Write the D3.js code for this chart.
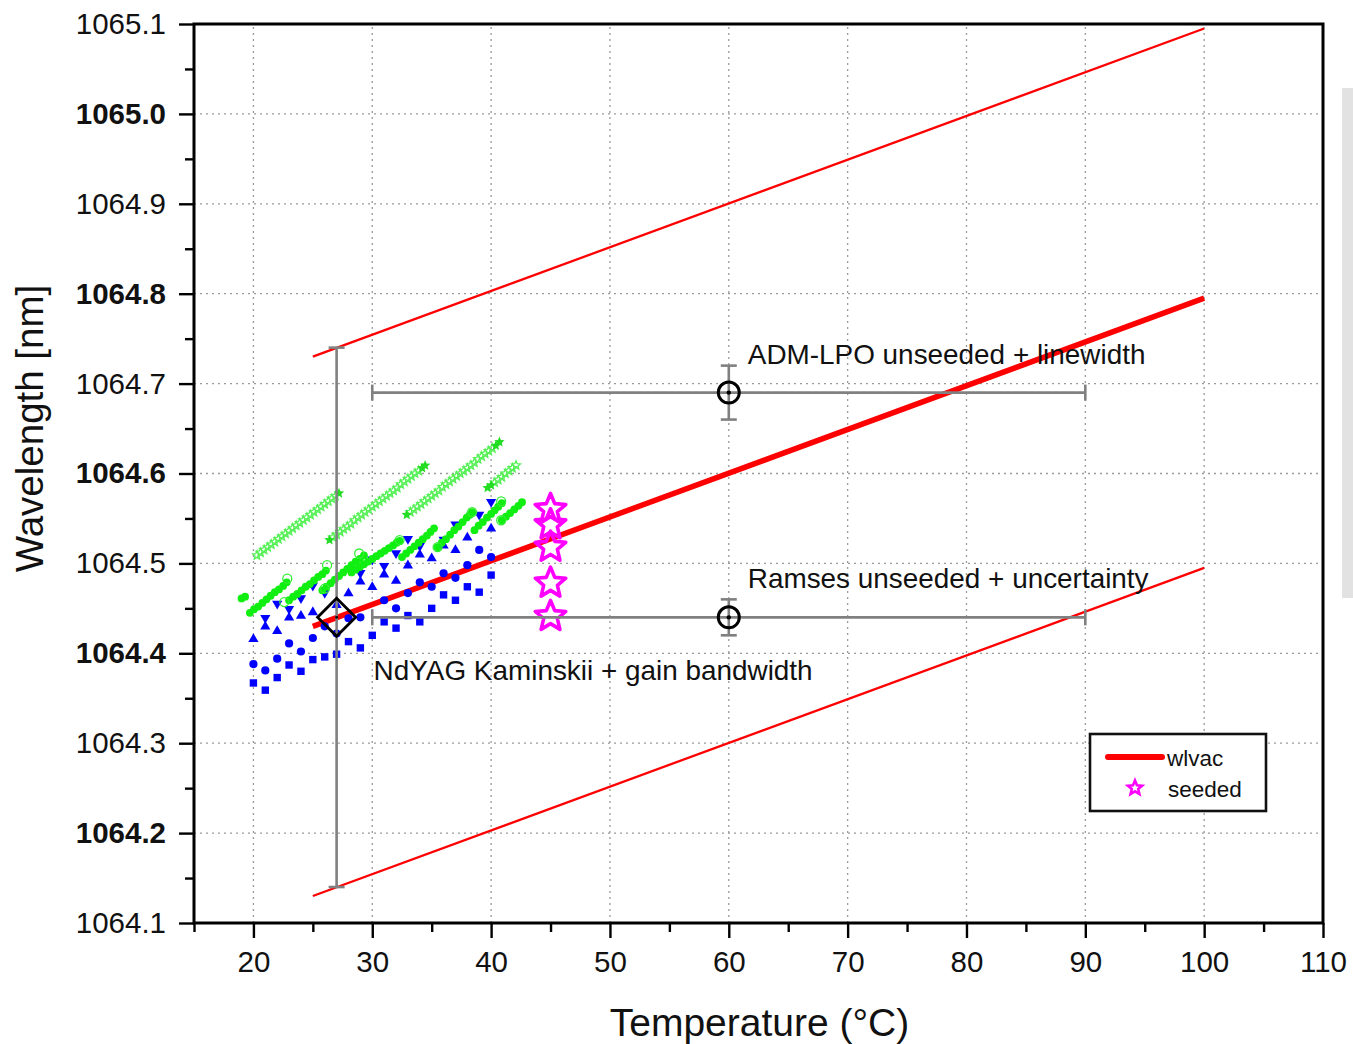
<!DOCTYPE html>
<html>
<head>
<meta charset="utf-8">
<script src="https://cdn.jsdelivr.net/npm/d3@7"></script>
<style>
  html, body { margin: 0; padding: 0; background: #fff; }
  svg { display: block; font-family: "Liberation Sans", Arial, sans-serif; }
</style>
</head>
<body>
<svg id="chart" width="1353" height="1044"></svg>
<script>
// ---------- data ----------
const xTicks = [20, 30, 40, 50, 60, 70, 80, 90, 100, 110];
const xMinorTicks = [15, 25, 35, 45, 55, 65, 75, 85, 95, 105];
const yTicks = [1064.1, 1064.2, 1064.3, 1064.4, 1064.5, 1064.6, 1064.7, 1064.8, 1064.9, 1065.0, 1065.1];
const yMinorTicks = [1064.15, 1064.25, 1064.35, 1064.45, 1064.55, 1064.65, 1064.75, 1064.85, 1064.95, 1065.05];
const yBoldLabels = [1064.2, 1064.4, 1064.6, 1064.8, 1065.0];

// vacuum wavelength vs. temperature and its +/- bounds
const lineTemp = [25, 100];
const wlvac = [1064.43, 1064.795];
const wlUpper = [1064.73, 1065.095];
const wlLower = [1064.13, 1064.495];

// reference points with error bars
const admLpo = { t: 60, wl: 1064.69, tErr: 30, wlErr: 0.03, label: "ADM-LPO unseeded + linewidth" };
const ramses = { t: 60, wl: 1064.44, tErr: 30, wlErr: 0.02, label: "Ramses unseeded + uncertainty" };
const kaminskii = { t: 27, wl: 1064.44, wlErr: 0.3, label: "NdYAG Kaminskii + gain bandwidth" };

// seeded measurements
const seededTemp = [45, 45, 45, 45, 45];
const seededWl = [1064.560, 1064.543, 1064.518, 1064.478, 1064.441];

// blue scans
const blueCircles = [[20,1064.388],[21,1064.381],[22,1064.394],[23,1064.411],[24,1064.402],[25,1064.417],[26,1064.430],[27,1064.422],[28,1064.439],[29,1064.440],[31,1064.459],[32,1064.450],[33,1064.467],[34,1064.479],[35,1064.474],[36,1064.489],[37,1064.484],[38,1064.498],[39,1064.515],[40,1064.507]];
const blueSquares = [[20,1064.367],[21,1064.359],[22,1064.373],[23,1064.387],[24,1064.380],[25,1064.393],[26,1064.396],[27,1064.399],[28,1064.413],[29,1064.406],[30,1064.420],[31,1064.435],[32,1064.428],[33,1064.442],[34,1064.435],[35,1064.450],[36,1064.465],[37,1064.459],[38,1064.474],[39,1064.468],[40,1064.487]];
const blueUp = [[20,1064.416],[21,1064.430],[22,1064.425],[23,1064.440],[24,1064.442],[25,1064.446],[27,1064.454],[28,1064.467],[29,1064.480],[30,1064.474],[31,1064.488],[32,1064.481],[33,1064.498],[34,1064.510],[35,1064.506],[36,1064.520],[37,1064.515],[38,1064.529],[40,1064.539]];
const blueDown = [[21,1064.439],[22,1064.455],[23,1064.449],[24,1064.461],[25,1064.475],[26,1064.467],[29,1064.489],[30,1064.504],[31,1064.497],[32,1064.511],[33,1064.527],[34,1064.519],[36,1064.526],[37,1064.543],[39,1064.554],[40,1064.568]];

// green scans: filled dots
const greenDots = [
  [19.0,1064.461],[19.3,1064.463],
  [19.7,1064.445],[20.05,1064.449],[20.4,1064.452],[20.75,1064.456],[21.1,1064.460],[21.45,1064.464],[21.8,1064.468],[22.15,1064.471],[22.5,1064.475],[22.8,1064.479],
  [23.0,1064.459],[23.35,1064.463],[23.7,1064.466],[24.05,1064.470],[24.4,1064.474],[24.75,1064.477],[25.1,1064.481],[25.45,1064.485],[25.8,1064.488],[26.1,1064.492],
  [25.8,1064.470],[26.15,1064.474],[26.5,1064.478],[26.85,1064.482],[27.2,1064.486],[27.55,1064.490],[27.9,1064.494],[28.25,1064.498],[28.6,1064.502],[28.95,1064.505],[29.3,1064.509],
  [28.25,1064.490],[28.6,1064.493],[28.95,1064.496],[29.3,1064.499],[29.65,1064.502],[30.0,1064.505],[30.35,1064.508],[30.7,1064.511],[31.05,1064.514],[31.4,1064.517],[31.75,1064.520],[32.05,1064.523],[32.3,1064.525],
  [32.5,1064.507],[32.85,1064.511],[33.2,1064.515],[33.55,1064.519],[33.9,1064.523],[34.25,1064.527],[34.6,1064.531],[34.9,1064.535],[35.2,1064.539],
  [35.5,1064.518],[35.85,1064.523],[36.2,1064.527],[36.55,1064.532],[36.9,1064.537],[37.25,1064.541],[37.6,1064.546],[37.95,1064.551],[38.2,1064.554],[38.4,1064.557],
  [38.6,1064.537],[38.95,1064.542],[39.3,1064.546],[39.65,1064.551],[40.0,1064.555],[40.3,1064.559],[40.6,1064.563],[40.9,1064.567],
  [40.9,1064.548],[41.25,1064.552],[41.6,1064.556],[41.95,1064.560],[42.3,1064.564],[42.6,1064.568]
];
// green scans: open circles at segment ends
const greenOpenCircles = [[22.6,1064.457],[22.85,1064.483],[26.0,1064.472],[26.2,1064.498],[28.9,1064.511],[32.3,1064.526],[35.5,1064.518],[38.4,1064.557],[40.85,1064.569],[40.85,1064.548]];
// green scans: open stars
const greenOpenStars = [
  [20.3,1064.509],[20.6,1064.512],[20.9,1064.515],[21.2,1064.518],[21.5,1064.521],[21.8,1064.524],[22.1,1064.527],[22.4,1064.530],[22.7,1064.533],[23.0,1064.536],[23.3,1064.539],[23.6,1064.542],[23.9,1064.545],[24.2,1064.548],[24.5,1064.551],[24.8,1064.554],[25.1,1064.557],[25.4,1064.560],[25.7,1064.563],[26.0,1064.566],[26.3,1064.569],[26.6,1064.572],[26.9,1064.575],
  [26.7,1064.529],[27.0,1064.532],[27.3,1064.535],[27.6,1064.538],[27.9,1064.541],[28.2,1064.544],[28.5,1064.548],[28.8,1064.551],[29.1,1064.554],[29.4,1064.557],[29.7,1064.560],[30.0,1064.563],[30.3,1064.566],[30.6,1064.569],[30.9,1064.572],[31.2,1064.575],[31.5,1064.578],[31.8,1064.581],[32.1,1064.584],[32.4,1064.588],[32.7,1064.591],[33.0,1064.594],[33.3,1064.597],[33.6,1064.600],[33.9,1064.603],
  [33.2,1064.557],[33.5,1064.560],[33.8,1064.563],[34.1,1064.566],[34.4,1064.569],[34.7,1064.572],[35.0,1064.575],[35.3,1064.578],[35.6,1064.581],[35.9,1064.585],[36.2,1064.588],[36.5,1064.591],[36.8,1064.594],[37.1,1064.597],[37.4,1064.600],[37.7,1064.603],[38.0,1064.606],[38.3,1064.609],[38.6,1064.612],[38.9,1064.616],[39.2,1064.619],[39.5,1064.622],[39.8,1064.625],[40.1,1064.628],
  [40.3,1064.590],[40.6,1064.593],[40.9,1064.596],[41.2,1064.600],[41.5,1064.603],[41.8,1064.606],[42.1,1064.609]
];
// green scans: filled stars at segment ends
const greenStars = [[27.2,1064.578],[26.4,1064.526],[34.2,1064.606],[34.45,1064.609],[32.9,1064.554],[40.4,1064.631],[40.7,1064.635],[39.7,1064.584],[40.0,1064.587]];

// ---------- layout ----------
const svg = d3.select("#chart");
const x = d3.scaleLinear().domain([15, 110]).range([194, 1323]);
const y = d3.scaleLinear().domain([1064.1, 1065.1]).range([923, 24]);
const [x0, x1] = x.range();
const [y0, y1] = y.range();

function starPath(R, ratio) {
  const r = R * ratio;
  const pts = [];
  for (let i = 0; i < 10; i++) {
    const a = -Math.PI / 2 + i * Math.PI / 5;
    const rad = i % 2 === 0 ? R : r;
    pts.push([rad * Math.cos(a), rad * Math.sin(a)]);
  }
  return "M" + pts.map(p => p[0].toFixed(2) + "," + p[1].toFixed(2)).join("L") + "Z";
}

// side grey bar
svg.append("rect").attr("x", 1342).attr("y", 88).attr("width", 11).attr("height", 510).attr("fill", "#e2e2e2");

// grid
const grid = svg.append("g").attr("stroke", "#9a9a9a").attr("stroke-width", 1.3).attr("stroke-dasharray", "2,4");
grid.selectAll("line.v").data(xTicks.filter(d => d < 110)).join("line")
  .attr("x1", d => x(d)).attr("x2", d => x(d)).attr("y1", y0).attr("y2", y1);
grid.selectAll("line.h").data(yTicks.filter(d => d > 1064.15 && d < 1065.05)).join("line")
  .attr("x1", x0).attr("x2", x1).attr("y1", d => y(d)).attr("y2", d => y(d));

// bound and central lines
const lineGen = d3.line().x(d => x(d[0])).y(d => y(d[1]));
const zip = (a, b) => a.map((v, i) => [v, b[i]]);
svg.append("path").attr("d", lineGen(zip(lineTemp, wlUpper))).attr("stroke", "#ff0000").attr("stroke-width", 2.3).attr("fill", "none");
svg.append("path").attr("d", lineGen(zip(lineTemp, wlLower))).attr("stroke", "#ff0000").attr("stroke-width", 2.3).attr("fill", "none");
svg.append("path").attr("d", lineGen(zip(lineTemp, wlvac))).attr("stroke", "#ff0000").attr("stroke-width", 5.5).attr("fill", "none");

// blue scans
const blue = "#0000ff";
svg.append("g").selectAll("circle").data(blueCircles).join("circle")
  .attr("cx", d => x(d[0])).attr("cy", d => y(d[1])).attr("r", 4.1).attr("fill", blue);
svg.append("g").selectAll("rect").data(blueSquares).join("rect")
  .attr("x", d => x(d[0]) - 3.7).attr("y", d => y(d[1]) - 3.7).attr("width", 7.4).attr("height", 7.4).attr("fill", blue);
svg.append("g").selectAll("path").data(blueUp).join("path")
  .attr("transform", d => `translate(${x(d[0])},${y(d[1])})`)
  .attr("d", "M0,-5.6L5.1,3.2L-5.1,3.2Z").attr("fill", blue);
svg.append("g").selectAll("path").data(blueDown).join("path")
  .attr("transform", d => `translate(${x(d[0])},${y(d[1])})`)
  .attr("d", "M0,5.6L5.1,-3.2L-5.1,-3.2Z").attr("fill", blue);

// green scans
svg.append("g").selectAll("path").data(greenOpenStars).join("path")
  .attr("transform", d => `translate(${x(d[0])},${y(d[1])})`)
  .attr("d", starPath(4.6, 0.45)).attr("fill", "none").attr("stroke", "#55f055").attr("stroke-width", 1.3);
svg.append("g").selectAll("path").data(greenStars).join("path")
  .attr("transform", d => `translate(${x(d[0])},${y(d[1])})`)
  .attr("d", starPath(5.5, 0.45)).attr("fill", "#22dd22");
svg.append("g").selectAll("circle").data(greenDots).join("circle")
  .attr("cx", d => x(d[0])).attr("cy", d => y(d[1])).attr("r", 3.9).attr("fill", "#11ee11");
svg.append("g").selectAll("circle").data(greenOpenCircles).join("circle")
  .attr("cx", d => x(d[0])).attr("cy", d => y(d[1])).attr("r", 4.5).attr("fill", "none").attr("stroke", "#33ee33").attr("stroke-width", 1.3);

// seeded stars
svg.append("g").selectAll("path").data(zip(seededTemp, seededWl)).join("path")
  .attr("transform", d => `translate(${x(d[0])},${y(d[1])})`)
  .attr("d", starPath(16, 0.45)).attr("fill", "none").attr("stroke", "#ff00ff").attr("stroke-width", 3.6).attr("stroke-linejoin", "round");

// error bars
const eb = svg.append("g").attr("stroke", "#808080").attr("stroke-width", 2.6).attr("fill", "none");
const cap = 8;
[admLpo, ramses].forEach(p => {
  eb.append("line").attr("x1", x(p.t - p.tErr)).attr("x2", x(p.t + p.tErr)).attr("y1", y(p.wl)).attr("y2", y(p.wl));
  [p.t - p.tErr, p.t + p.tErr].forEach(t => eb.append("line").attr("x1", x(t)).attr("x2", x(t)).attr("y1", y(p.wl) - cap).attr("y2", y(p.wl) + cap));
  eb.append("line").attr("x1", x(p.t)).attr("x2", x(p.t)).attr("y1", y(p.wl - p.wlErr)).attr("y2", y(p.wl + p.wlErr));
  [p.wl - p.wlErr, p.wl + p.wlErr].forEach(w => eb.append("line").attr("x1", x(p.t) - cap).attr("x2", x(p.t) + cap).attr("y1", y(w)).attr("y2", y(w)));
});
eb.append("line").attr("x1", x(kaminskii.t)).attr("x2", x(kaminskii.t))
  .attr("y1", y(kaminskii.wl - kaminskii.wlErr)).attr("y2", y(kaminskii.wl + kaminskii.wlErr));
[kaminskii.wl - kaminskii.wlErr, kaminskii.wl + kaminskii.wlErr].forEach(w =>
  eb.append("line").attr("x1", x(kaminskii.t) - cap).attr("x2", x(kaminskii.t) + cap).attr("y1", y(w)).attr("y2", y(w)));

// reference markers
[admLpo, ramses].forEach(p => {
  svg.append("circle").attr("cx", x(p.t)).attr("cy", y(p.wl)).attr("r", 10.5)
    .attr("fill", "none").attr("stroke", "#000").attr("stroke-width", 3);
  svg.append("circle").attr("cx", x(p.t)).attr("cy", y(p.wl)).attr("r", 2.2).attr("fill", "#000");
});
svg.append("path").attr("transform", `translate(${x(kaminskii.t)},${y(kaminskii.wl)})`)
  .attr("d", "M0,-19L19,0L0,19L-19,0Z").attr("fill", "none").attr("stroke", "#000").attr("stroke-width", 2.8);
svg.append("circle").attr("cx", x(kaminskii.t)).attr("cy", y(kaminskii.wl)).attr("r", 1.4).attr("fill", "#000");

// annotations
const ann = svg.append("g").attr("font-size", 27.9).attr("fill", "#111");
ann.append("text").attr("x", x(admLpo.t) + 19).attr("y", y(admLpo.wl) - 29).text(admLpo.label);
ann.append("text").attr("x", x(ramses.t) + 19).attr("y", y(ramses.wl) - 29).text(ramses.label);
ann.append("text").attr("x", x(kaminskii.t) + 37).attr("y", y(kaminskii.wl) + 63).text(kaminskii.label);

// axes
const tickStyle = g => {
  g.select(".domain").remove();
  g.selectAll(".tick line").attr("stroke", "#000").attr("stroke-width", 2.4);
  g.selectAll(".tick text").attr("fill", "#111").attr("font-size", 29.5).attr("font-family", "Liberation Sans, Arial, sans-serif");
};
svg.append("g").attr("transform", `translate(0,${y0})`)
  .call(d3.axisBottom(x).tickValues(xTicks).tickSize(15).tickPadding(13).tickFormat(d3.format("d")))
  .call(tickStyle);
svg.append("g").attr("transform", `translate(0,${y0})`)
  .call(d3.axisBottom(x).tickValues(xMinorTicks).tickSize(9).tickFormat(""))
  .call(tickStyle);
svg.append("g").attr("transform", `translate(${x0},0)`)
  .call(d3.axisLeft(y).tickValues(yTicks).tickSize(15).tickPadding(13).tickFormat(d3.format(".1f")))
  .call(tickStyle)
  .selectAll(".tick text")
  .attr("font-weight", d => yBoldLabels.some(v => Math.abs(v - d) < 1e-6) ? "bold" : "normal");
svg.append("g").attr("transform", `translate(${x0},0)`)
  .call(d3.axisLeft(y).tickValues(yMinorTicks).tickSize(9).tickFormat(""))
  .call(tickStyle);

// frame
svg.append("rect").attr("x", x0).attr("y", y1).attr("width", x1 - x0).attr("height", y0 - y1)
  .attr("fill", "none").attr("stroke", "#000").attr("stroke-width", 3);

// axis titles
svg.append("text").attr("x", (x0 + x1) / 2 + 1).attr("y", 1036).attr("text-anchor", "middle")
  .attr("font-size", 39).attr("fill", "#111").text("Temperature (°C)");
svg.append("text").attr("transform", `translate(43,${(y0 + y1) / 2 - 45}) rotate(-90)`).attr("text-anchor", "middle")
  .attr("font-size", 38.5).attr("fill", "#111").text("Wavelength [nm]");

// legend
const lg = svg.append("g");
lg.append("rect").attr("x", 1090).attr("y", 734).attr("width", 176).attr("height", 77)
  .attr("fill", "#fff").attr("stroke", "#111").attr("stroke-width", 2.6);
lg.append("line").attr("x1", 1108).attr("x2", 1162).attr("y1", 757).attr("y2", 757)
  .attr("stroke", "#ff0000").attr("stroke-width", 6).attr("stroke-linecap", "round");
lg.append("text").attr("x", 1167).attr("y", 766).attr("font-size", 22.5).attr("fill", "#111").text("wlvac");
lg.append("path").attr("transform", "translate(1135,788)").attr("d", starPath(7.5, 0.45))
  .attr("fill", "none").attr("stroke", "#ff00ff").attr("stroke-width", 2.6);
lg.append("text").attr("x", 1168).attr("y", 797).attr("font-size", 22.5).attr("fill", "#111").text("seeded");
</script>
</body>
</html>
